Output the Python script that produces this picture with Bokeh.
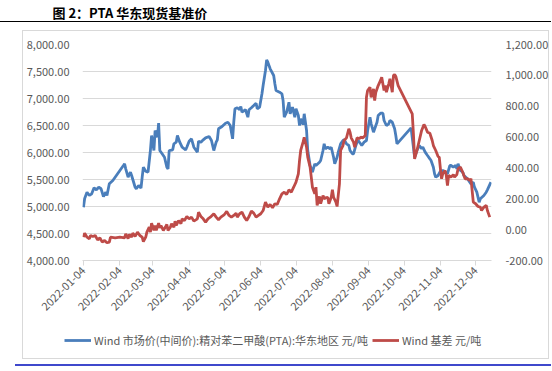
import pandas as pd
from bokeh.plotting import figure
from bokeh.layouts import column
from bokeh.models import (Range1d, LinearAxis, FixedTicker, NumeralTickFormatter,
                          DatetimeTickFormatter, Legend, LegendItem, Label,
                          SingleIntervalTicker)
from bokeh.embed import file_html
from bokeh.resources import INLINE
import math

title_text = "图 2：PTA 华东现货基准价"
series_names = ["Wind 市场价(中间价):精对苯二甲酸(PTA):华东地区 元/吨", "Wind 基差 元/吨"]
start_date = "2022-01-04"
tick_labels = ["2022-01-04", "2022-02-04", "2022-03-04", "2022-04-04", "2022-05-04", "2022-06-04",
               "2022-07-04", "2022-08-04", "2022-09-04", "2022-10-04", "2022-11-04", "2022-12-04"]

# days after 2022-01-04
price_days = [0,1,3,5,7,9,11,13,15,17,19,20,22,25,28,31,34,35,36,38,40,41,44,45,47,49,50,51,53,55,
              57,58,60,61,63,64,65,67,69,71,72,73,76,77,79,80,82,84,87,88,90,92,94,97,98,100,102,104,
              107,109,111,113,114,115,118,121,123,125,127,128,129,131,133,134,135,136,138,140,141,143,
              145,147,148,150,152,153,155,156,157,159,162,163,164,167,169,170,171,173,175,176,178,180,
              181,183,184,185,187,188,190,191,193,194,195,197,198,201,202,204,205,206,208,210,211,213,
              214,216,217,219,221,222,224,226,227,229,230,232,233,234,236,237,239,241,242,244,245,247,
              249,250,251,253,255,256,258,260,261,263,264,265,266,267,279,282,284,286,288,289,291,293,
              295,296,298,299,300,302,304,306,308,310,312,313,315,317,318,319,321,323,324,327,329,330,
              332,333,335,337,338,341,343,344,347]
price_vals = [4987,5148,5265,5204,5235,5346,5309,5357,5328,5185,5265,5204,5420,5481,5574,5667,5759,5790,
              5698,5543,5635,5574,5357,5328,5389,5339,5543,5728,5654,5635,6037,6315,6037,6407,6283,6543,
              6037,5976,5913,5728,5698,6037,6050,6161,6191,6315,6191,6098,6050,6098,6209,6254,6098,6006,
              6209,6191,6235,6272,6296,6222,6037,6191,6235,6439,6481,6543,6561,6500,6254,6561,6809,6828,
              6791,6852,6746,6765,6791,6654,6791,6828,6870,6913,6809,6839,7087,7241,7519,7717,7672,7550,
              7426,7272,7148,7117,7087,6963,6654,6746,6931,6717,6839,6654,6809,6685,6500,6624,6519,6717,
              6407,6037,5759,5698,5635,5791,5759,5820,5852,6037,6161,6069,6098,6069,6098,5913,5791,5913,
              6006,6161,6222,6235,6161,6130,6037,5976,5976,6130,6191,6222,6161,6130,6191,6222,6407,6654,
              6531,6376,6500,6561,6685,6728,6728,6593,6500,6531,6593,6561,6500,6439,6315,6161,6457,5913,
              6037,6130,6069,6098,6006,5944,5883,5852,5728,5606,5543,5574,5654,5667,5635,5606,5759,5759,
              5728,5759,5698,5791,5667,5635,5574,5513,5450,5420,5450,5357,5265,5080,5143,5204,5265,5309,
              5450]

basis_days = [0,1,3,5,6,8,10,12,14,16,18,20,22,23,27,31,35,36,38,39,41,42,44,46,48,50,51,53,54,56,57,
              58,60,61,62,64,65,66,68,70,71,72,74,75,77,78,79,81,83,84,86,88,90,92,94,97,98,100,102,
              104,106,108,111,113,115,117,120,122,124,126,128,130,131,133,135,137,139,141,143,145,147,
              149,151,153,155,157,159,161,163,165,167,169,171,173,175,177,179,181,183,184,185,187,188,
              190,191,193,194,195,197,198,199,201,202,204,205,206,208,209,211,212,213,215,216,218,219,
              221,222,224,226,227,228,230,231,233,235,236,238,240,241,242,244,245,247,248,249,251,253,
              254,256,257,258,260,261,263,264,265,266,268,280,281,282,284,286,288,290,291,293,295,297,
              298,300,302,303,304,305,306,308,309,310,311,313,315,316,318,319,320,321,323,325,327,329,
              330,331,332,334,336,338,339,341,343,344,346]
basis_vals = [-49,-23,-49,-59,-38,-44,-38,-66,-53,-81,-70,-85,-81,-49,-53,-49,-53,-27,-59,-31,-49,-23,
              -44,-16,-38,-49,-77,-49,-16,16,-16,42,-5,27,-5,42,12,27,-5,20,33,-5,16,38,16,55,27,59,38,
              70,59,85,70,81,55,70,113,85,70,48,70,81,103,81,64,81,98,118,92,81,92,107,81,103,113,81,
              59,85,120,107,81,92,103,124,178,146,163,142,168,163,200,232,243,228,258,243,275,308,362,
              448,513,567,599,534,470,405,340,275,232,275,157,215,168,221,200,206,210,168,210,258,210,
              178,150,297,513,545,578,595,654,632,595,567,534,595,589,599,595,610,858,902,923,858,913,
              837,891,934,967,988,902,934,891,945,978,891,999,1006,993,934,751,621,459,513,578,643,682,
              669,632,625,578,545,513,474,470,394,330,362,383,351,286,351,340,357,340,357,394,401,405,
              372,330,330,319,330,254,178,168,150,146,124,146,157,124,81]

start = pd.Timestamp(start_date)
price_x = start + pd.to_timedelta(price_days, unit="D")
basis_x = start + pd.to_timedelta(basis_days, unit="D")
tick_ms = [pd.Timestamp(t).value / 1e6 for t in tick_labels]

FONT = "Noto Sans CJK SC"
GREY = "#595959"
GRID = "#d9d9d9"
BLUE = "#4A7EBB"
RED = "#BE4B48"
LW = 2.8

W = 551
H_TOP = 30
H_MAIN = 298
H_LEG = 41
FRAME_LEFT = 82


def bar(color, x, y, w, h):
    return (f"linear-gradient({color},{color})", f"{x}px {y}px", f"{w}px {h}px")


deco = [
    bar("#000000", 0, 21, 552, 1),          # rule under heading
    bar("#d9d9d9", 22, 30, 527, 1),         # chart box
    bar("#d9d9d9", 22, 358, 527, 1),
    bar("#d9d9d9", 22, 30, 1, 329),
    bar("#d9d9d9", 548, 30, 1, 329),
    bar("#3f48cc", 15, 364, 537, 2),        # bottom rule
]


def unalign(f):
    """Stop frame alignment in the column; returns the x shift still present."""
    try:
        f.frame_align = False
        return 0
    except Exception:
        return FRAME_LEFT


def strip(height):
    f = figure(width=W, height=height, output_backend="svg", toolbar_location=None,
               min_border=0, x_axis_location=None, y_axis_location=None,
               x_range=Range1d(0, 1), y_range=Range1d(0, 1))
    f.grid.visible = False
    f.outline_line_color = None
    f.background_fill_alpha = 0
    f.border_fill_color = None
    return f


# heading strip
tf = strip(H_TOP)
dx_t = unalign(tf)
tf.add_layout(Label(x=52 - dx_t, y=H_TOP - 12, x_units="screen", y_units="screen",
                    text=title_text, text_font=FONT, text_font_style="bold",
                    text_font_size="13px", text_color="black", text_baseline="middle"))

# main chart
FT = 44 - H_TOP
FB = 260 - H_TOP
p = figure(width=W, height=H_MAIN, x_axis_type="datetime", output_backend="svg",
           toolbar_location=None,
           x_range=Range1d(start - pd.Timedelta(hours=20), start + pd.Timedelta(days=347, hours=12)),
           y_range=Range1d(4000, 8000),
           min_border_left=FRAME_LEFT, min_border_right=W - 495, min_border_top=FT,
           min_border_bottom=H_MAIN - FB)
unalign(p)
p.outline_line_color = None
p.background_fill_color = "white"
p.border_fill_color = None

p.extra_y_ranges = {"basis": Range1d(-200, 1200)}

r1 = p.line(price_x, price_vals, line_color=BLUE, line_width=LW)
r2 = p.line(basis_x, basis_vals, line_color=RED, line_width=LW, y_range_name="basis")

xa = p.xaxis[0]
xa.ticker = FixedTicker(ticks=tick_ms)
fmt = "%Y-%m-%d"
xa.formatter = DatetimeTickFormatter(days=fmt, months=fmt, years=fmt, hours=fmt,
                                     minutes=fmt, seconds=fmt, milliseconds=fmt, microseconds=fmt,
                                     hourmin=fmt, minsec=fmt)
xa.major_label_orientation = math.pi / 4
xa.axis_line_color = GRID
xa.major_tick_line_color = GRID
xa.major_tick_in = 0
xa.major_tick_out = 5
xa.minor_tick_line_color = None
xa.major_label_text_font = FONT
xa.major_label_text_font_size = "11px"
xa.major_label_text_color = GREY
xa.major_label_standoff = 3

ya = p.yaxis[0]
ya.ticker = SingleIntervalTicker(interval=500)
ya.formatter = NumeralTickFormatter(format="0,0.00")
ya.axis_line_color = None
ya.major_tick_line_color = None
ya.minor_tick_line_color = None
ya.major_label_text_font = FONT
ya.major_label_text_font_size = "11px"
ya.major_label_text_color = GREY
ya.major_label_standoff = 7

ra = LinearAxis(y_range_name="basis", ticker=SingleIntervalTicker(interval=200),
                formatter=NumeralTickFormatter(format="0,0.00"))
ra.axis_line_color = None
ra.major_tick_line_color = None
ra.minor_tick_line_color = None
ra.major_label_text_font = FONT
ra.major_label_text_font_size = "11px"
ra.major_label_text_color = GREY
ra.major_label_standoff = 8
p.add_layout(ra, "right")

p.xgrid.grid_line_color = None
p.ygrid.grid_line_color = GRID
p.ygrid.ticker = SingleIntervalTicker(interval=500)

# legend strip: same series, ranges keep them out of view; only the legend shows
lf = strip(H_LEG)
dx_l = unalign(lf)
k1 = lf.line(price_days, price_vals, line_color=BLUE, line_width=LW)
k2 = lf.line(basis_days, basis_vals, line_color=RED, line_width=LW)
legend = Legend(items=[LegendItem(label=series_names[0], renderers=[k1]),
                       LegendItem(label=series_names[1], renderers=[k2])],
                location=(64 - dx_l, 21), orientation="horizontal",
                border_line_color=None, background_fill_alpha=0,
                label_text_font=FONT, label_text_font_size="11px", label_text_color=GREY,
                glyph_width=27, glyph_height=12, spacing=4, label_standoff=3,
                padding=0, margin=0)
lf.add_layout(legend, "center")

page = column(tf, p, lf, spacing=0, styles={
    "background-color": "white",
    "background-image": ", ".join(d[0] for d in deco),
    "background-position": ", ".join(d[1] for d in deco),
    "background-size": ", ".join(d[2] for d in deco),
    "background-repeat": "no-repeat",
})

open("out.html", "w").write(file_html(page, INLINE))
